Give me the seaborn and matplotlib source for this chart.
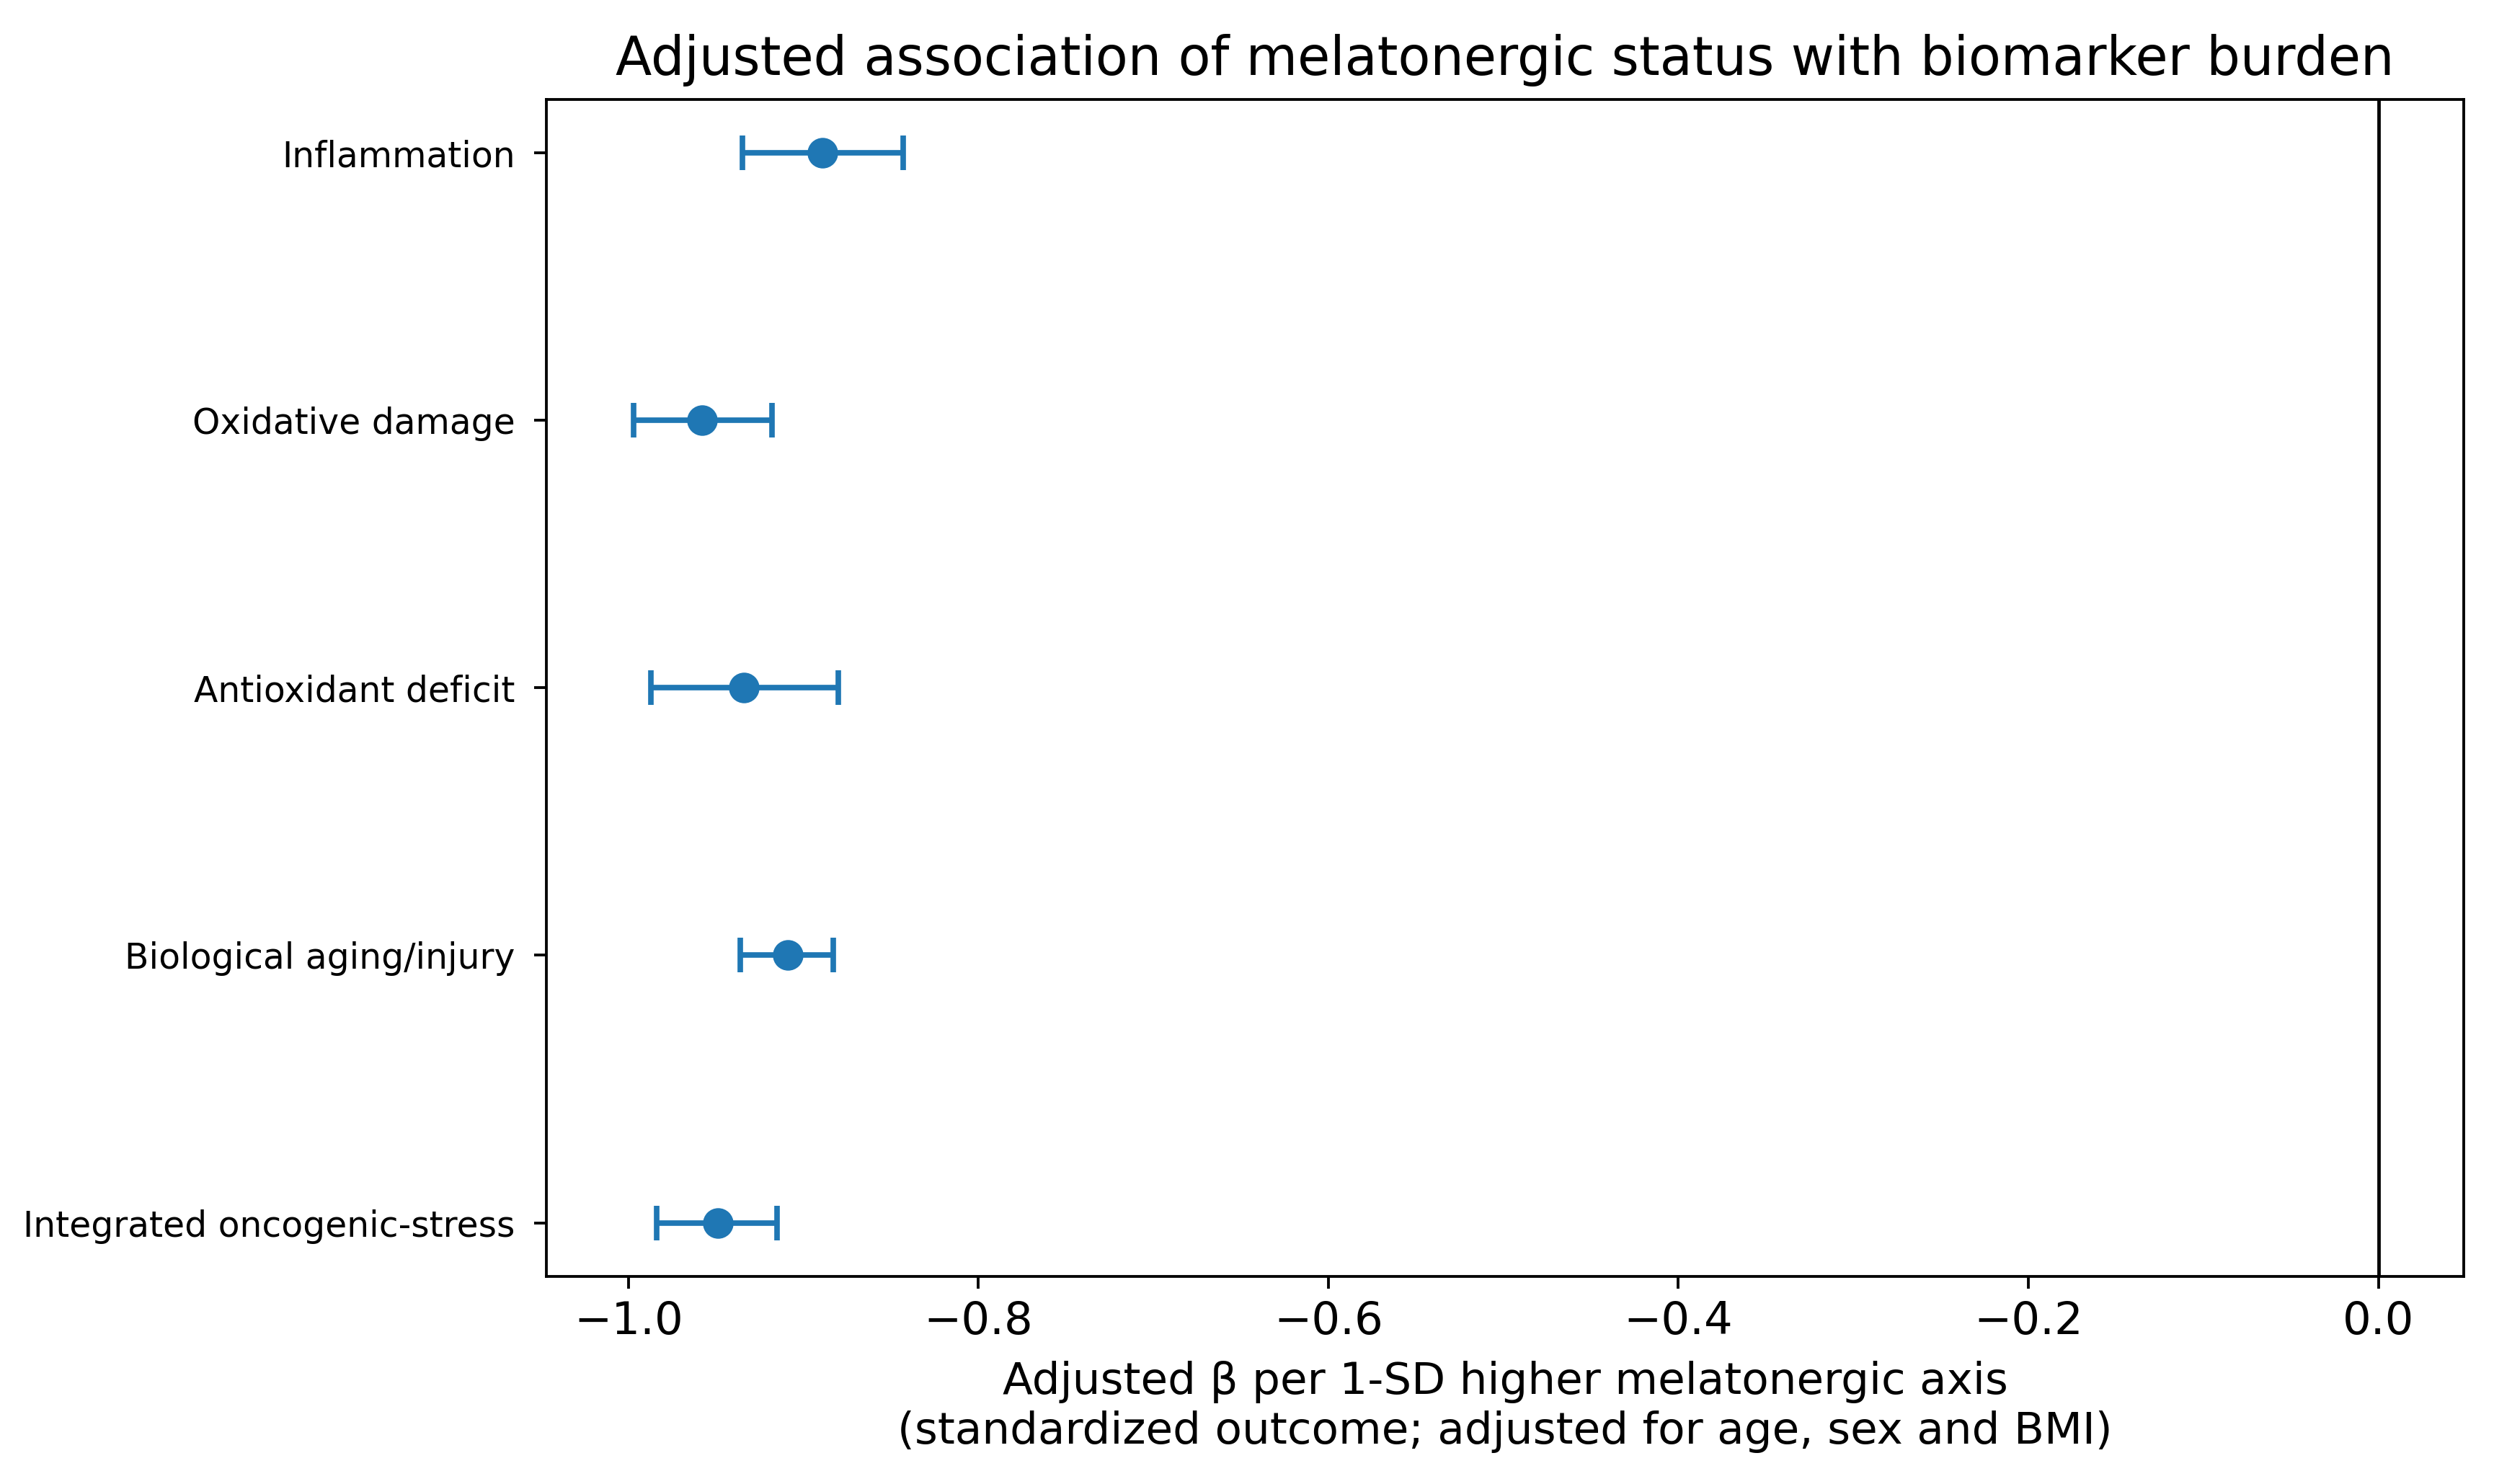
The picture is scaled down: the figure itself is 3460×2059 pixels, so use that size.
import matplotlib
matplotlib.use("Agg")
import matplotlib.pyplot as plt
import seaborn as sns
import pandas as pd
import numpy as np

categories = ["Inflammation", "Oxidative damage", "Antioxidant deficit",
              "Biological aging/injury", "Integrated oncogenic-stress"]
beta = [-0.889, -0.958, -0.934, -0.909, -0.949]
ci_low = [-0.935, -0.997, -0.987, -0.936, -0.984]
ci_high = [-0.843, -0.918, -0.880, -0.883, -0.915]
xticks = [-1.0, -0.8, -0.6, -0.4, -0.2, 0.0]

df = pd.DataFrame({"outcome": categories, "beta": beta,
                   "lo": ci_low, "hi": ci_high})

fig = plt.figure(figsize=(10, 5.951), dpi=346)
ax = fig.add_axes([0.219, 0.140, 0.769, 0.793])

color = "#1f77b4"
xerr = np.vstack([df["beta"] - df["lo"], df["hi"] - df["beta"]])
ax.errorbar(df["beta"], df["outcome"], xerr=xerr, fmt="none",
            ecolor=color, elinewidth=1.6, capsize=5, capthick=1.6, zorder=2)
sns.scatterplot(data=df, x="beta", y="outcome", ax=ax, color=color,
                s=78, edgecolor=color, linewidth=0, zorder=3)
ax.axvline(0, color="black", linewidth=1)

ax.set_xlim(-1.047, 0.049)
ax.set_ylim(4.2, -0.2)
ax.set_xticks(xticks)
ax.tick_params(axis="x", labelsize=13)
ax.tick_params(axis="y", labelsize=10.15, pad=5.5)
ax.set_ylabel("")
ax.set_xlabel("Adjusted β per 1-SD higher melatonergic axis\n(standardized outcome; adjusted for age, sex and BMI)",
              fontsize=12.75, labelpad=5)
ax.set_title("Adjusted association of melatonergic status with biomarker burden",
             fontsize=15.3, pad=7)

fig.savefig("out.png", dpi=346)
